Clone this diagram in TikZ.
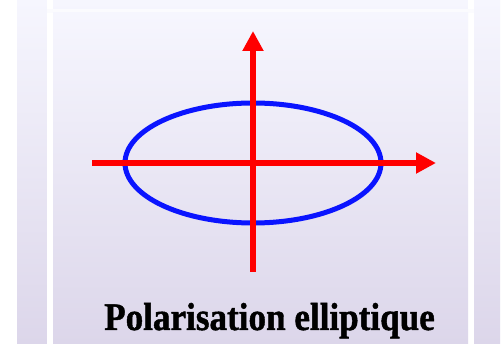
\documentclass[tikz,border=0pt]{standalone}
\usepackage{fontspec}
\setmainfont{Liberation Serif}
\newfontfamily\heavyfont[FakeBold=1.2]{Liberation Serif Bold}
\usetikzlibrary{arrows.meta}
\definecolor{bgtop}{RGB}{246,246,254}
\definecolor{bgbot}{RGB}{220,214,234}
\definecolor{ellblue}{RGB}{10,20,255}
\definecolor{axred}{RGB}{255,0,0}
\tikzset{
  axis/.style={draw=axred, line width=5.5pt, -{Triangle[length=20pt,width=20pt]}},
  ell/.style={draw=ellblue, line width=5pt},
  lbl/.style={inner sep=0pt, anchor=base, font=\fontsize{39}{40}\heavyfont}
}
\begin{document}
\begin{tikzpicture}[x=1pt,y=-1pt]
\useasboundingbox (0,0) rectangle (503,344);
\fill[white] (0,0) rectangle (503,344);
\shade[top color=bgtop, bottom color=bgbot] (17,0) rectangle (500,344);
\fill[white] (47,0) rectangle (53,344);
\fill[white] (468,0) rectangle (474,344);
\fill[white!60!bgtop] (47,9) rectangle (474,13);
\shade[top color=bgtop, bottom color=bgbot] (53,13) rectangle (468,344);
\coordinate (c) at (253,163);
\draw[ell] (c) ellipse[x radius=128, y radius=60];
\coordinate (hl) at (92,163);
\coordinate (hr) at (436,163);
\coordinate (vb) at (253,272);
\coordinate (vt) at (253,31);
\draw[axis] (hl) -- (hr);
\draw[axis] (vb) -- (vt);
\node[lbl] (t) at (269.5,330) {\scalebox{0.9}[1]{Polarisation elliptique}};
\end{tikzpicture}
\end{document}
